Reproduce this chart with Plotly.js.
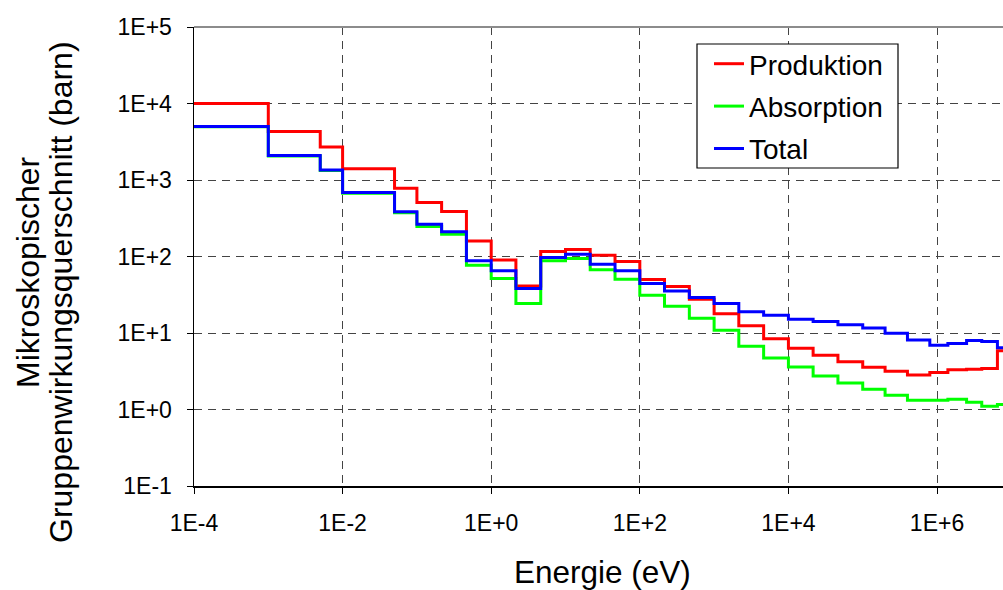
<!DOCTYPE html>
<html>
<head>
<meta charset="utf-8">
<script src="https://cdn.plot.ly/plotly-3.0.1.min.js"></script>
<style>
  html, body { margin: 0; padding: 0; background: #fff; overflow: hidden; }
  #chart { width: 1003px; height: 590px; }
</style>
</head>
<body>
<div id="chart"></div>
<script>
// Group energy boundaries (eV)
const energyEdges = [1e-4, 1e-3, 5e-3, 1e-2, 5e-2, 1e-1, 0.215, 0.464, 1, 2.15, 4.64, 10, 21.5, 46.4, 100,
  215, 464, 1000, 2150, 4640, 1e4, 2.15e4, 4.64e4, 1e5, 2e5, 4e5, 8e5, 1.4e6, 2.5e6, 4e6, 6.5e6, 1e7];

// Group cross sections (barn), one value per group
const produktion = [10000, 4300, 2700, 1400, 780, 508, 387, 160, 90, 41, 116, 123, 104, 86, 50,
  40.6, 27.7, 17.8, 12.4, 8.4, 6.3, 5.1, 4.2, 3.57, 3.17, 2.83, 3.05, 3.3, 3.35, 3.44, 5.84];
const absorption = [4950, 2060, 1330, 670, 372, 247, 195, 77, 51.5, 24.3, 87.7, 94, 67, 50.5, 31.2,
  22.4, 15.6, 10.9, 6.7, 4.7, 3.6, 2.75, 2.22, 1.84, 1.53, 1.32, 1.32, 1.36, 1.24, 1.10, 1.16];
const total = [5000, 2090, 1355, 687, 385, 264, 210, 87.7, 64.9, 38.2, 97, 107, 79, 65, 44.4,
  35.5, 29.1, 24.3, 18.9, 17.1, 15.1, 14.1, 12.8, 11.6, 9.9, 8.1, 6.9, 7.3, 7.98, 7.75, 6.4];

const seriesNames = ["Produktion", "Absorption", "Total"];

const xTickVals = [1e-4, 1e-2, 1, 1e2, 1e4, 1e6];
const xTickText = ["1E-4", "1E-2", "1E+0", "1E+2", "1E+4", "1E+6"];
const yTickVals = [1e-1, 1, 1e1, 1e2, 1e3, 1e4, 1e5];
const yTickText = ["1E-1", "1E+0", "1E+1", "1E+2", "1E+3", "1E+4", "1E+5"];

const xTitle = "Energie (eV)";
const yTitleLine1 = "Mikroskopischer";
const yTitleLine2 = "Gruppenwirkungsquerschnitt (barn)";

function stepY(vals) { return vals.concat([vals[vals.length - 1]]); }

const colors = ["#FF0000", "#00FF00", "#0000FF"];
const data = [produktion, absorption, total].map((vals, i) => ({
  type: "scatter",
  mode: "lines",
  name: seriesNames[i],
  legendgroup: "g" + i,
  x: energyEdges,
  y: stepY(vals),
  line: { shape: "hv", color: colors[i], width: 3 },
  hoverinfo: "x+y+name"
}));

const FONT = "Liberation Sans, Arial, sans-serif";

// plot area in pixels: left 194, right 1003, top 27, bottom 486
const PL = 194, PW = 809, PT = 27, PH = 459;
const px2x = p => (p - PL) / PW;
const px2y = p => (PT + PH - p) / PH;

const axisCommon = {
  type: "log",
  tickmode: "array",
  showgrid: true,
  gridcolor: "#444",
  griddash: "8px,6px",
  gridwidth: 1,
  showline: true,
  linecolor: "#000",
  linewidth: 1.5,
  ticks: "outside",
  ticklen: 6,
  tickcolor: "#000",
  tickfont: { family: FONT, size: 23, color: "#000" },
  ticklabelstandoff: 10,
  zeroline: false
};

const layout = {
  width: 1003,
  height: 590,
  margin: { l: 194, r: 0, t: 27, b: 104, autoexpand: false },
  paper_bgcolor: "#ffffff",
  plot_bgcolor: "#ffffff",
  showlegend: true,
  font: { family: FONT, color: "#000" },
  xaxis: Object.assign({}, axisCommon, { range: [-4, 6.888], tickvals: xTickVals, ticktext: xTickText }),
  yaxis: Object.assign({}, axisCommon, { range: [-1, 5], tickvals: yTickVals, ticktext: yTickText }),
  legend: {
    x: px2x(709), y: px2y(39), xanchor: "left", yanchor: "top",
    bgcolor: "rgba(0,0,0,0)",
    borderwidth: 0,
    font: { family: FONT, size: 28, color: "#000" },
    tracegroupgap: 3,
    itemwidth: 30
  },
  shapes: [
    { type: "line", xref: "paper", yref: "paper", x0: 0, x1: 1, y0: 1, y1: 1,
      line: { color: "#8c8c8c", width: 2 } },
    { type: "rect", xref: "paper", yref: "paper", layer: "above",
      x0: px2x(697), x1: px2x(898), y0: px2y(168), y1: px2y(44),
      fillcolor: "#ffffff", line: { color: "#000", width: 1.2 } }
  ],
  annotations: [
    { text: xTitle, xref: "paper", yref: "paper", x: px2x(602), y: px2y(572),
      xanchor: "center", yanchor: "middle", showarrow: false,
      font: { family: FONT, size: 31.5, color: "#000" } },
    { text: yTitleLine1, xref: "paper", yref: "paper", x: px2x(28), y: px2y(272),
      xanchor: "center", yanchor: "middle", showarrow: false, textangle: -90,
      font: { family: FONT, size: 32, color: "#000" } },
    { text: yTitleLine2, xref: "paper", yref: "paper", x: px2x(61), y: px2y(292),
      xanchor: "center", yanchor: "middle", showarrow: false, textangle: -90,
      font: { family: FONT, size: 32, color: "#000" } }
  ]
};

Plotly.newPlot("chart", data, layout, { displayModeBar: false, staticPlot: true });
</script>
</body>
</html>
